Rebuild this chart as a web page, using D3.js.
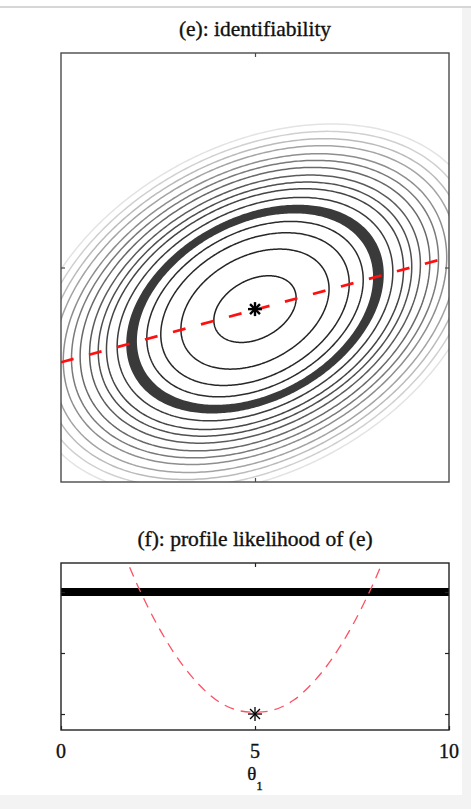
<!DOCTYPE html>
<html>
<head>
<meta charset="utf-8">
<script src="https://cdn.jsdelivr.net/npm/d3@7"></script>
<style>
  html, body { margin: 0; padding: 0; background: #ffffff; }
  svg { display: block; }
  text { font-family: "Liberation Serif", "Times New Roman", serif; fill: #111; stroke: #111; stroke-width: 0.35; }
</style>
</head>
<body>
<svg id="chart" width="471" height="809"></svg>
<script>
// ---- data ----
const theta1Ticks = [0, 5, 10];
const theta2Ticks = [5];
const profileTicks = [0, 1, 2];

// maximum-likelihood estimate (theta1, theta2)
const mle = [5, 4.03];

// likelihood contour shape: Q = d1^2 + 2*cross*d1*d2 + t2*d2^2
const shapeCross = -0.454;
const shapeTheta2 = 1.861;

// contour rings, given by their half-width along theta1 through the estimate
const ringHalfWidths = [1.0, 1.8, 2.29, 2.63, 3.35, 3.61, 3.81, 4.02, 4.25, 4.46, 4.66, 4.9, 5.11, 5.33, 5.55];
const ringGrays = ["#222", "#252525", "#282828", "#2c2c2c", "#3c3c3c", "#454545", "#4f4f4f", "#5b5b5b", "#696969",
                   "#7a7a7a", "#8e8e8e", "#a4a4a4", "#bbbbbb", "#d0d0d0", "#e3e3e3"];

// confidence-region band (inner and outer half-widths)
const bandHalfWidths = [2.87, 3.13];

// ridge of the likelihood (profile path) across the theta1 range
const ridgeTheta1 = [0, 10];
const ridgeTheta2 = [2.79, 5.24];

// profile likelihood curve
const profileTheta1 = [1.6, 2, 2.5, 3, 3.5, 4, 4.5, 5, 5.5, 6, 6.5, 7, 7.5, 8, 8.4];
const profileValue  = [2.66, 2.07, 1.44, 0.92, 0.52, 0.23, 0.07, 0.03, 0.07, 0.23, 0.52, 0.92, 1.44, 2.07, 2.66];
const profileThreshold = 2;
const profileMin = [5, 0];

// ---- layout ----
const svg = d3.select("#chart");

// page backdrop
svg.append("rect").attr("x", 0).attr("y", 0).attr("width", 471).attr("height", 809).attr("fill", "#ffffff");
svg.append("rect").attr("x", 462).attr("y", 8).attr("width", 9).attr("height", 801).attr("fill", "#f3f3f3");
svg.append("rect").attr("x", 0).attr("y", 795).attr("width", 471).attr("height", 14).attr("fill", "#f3f3f3");
svg.append("line").attr("x1", 0).attr("x2", 471).attr("y1", 7).attr("y2", 7)
  .attr("stroke", "#c8c8c8").attr("stroke-width", 1.5);

const boxE = { x0: 61, x1: 449, y0: 53, y1: 482 };
const boxF = { x0: 61, x1: 449, y0: 563, y1: 730 };

const xTop = d3.scaleLinear().domain([0, 10]).range([boxE.x0, boxE.x1]);
const yTop = d3.scaleLinear().domain([0, 10]).range([boxE.y1, boxE.y0]);
const xBot = d3.scaleLinear().domain([0, 10]).range([boxF.x0, boxF.x1]);
const yBot = d3.scaleLinear().domain([-0.262, 2.475]).range([boxF.y1, boxF.y0]);

const defs = svg.append("defs");
defs.append("clipPath").attr("id", "clipTop").append("rect")
  .attr("x", boxE.x0).attr("y", boxE.y0).attr("width", boxE.x1 - boxE.x0).attr("height", boxE.y1 - boxE.y0);
defs.append("clipPath").attr("id", "clipBot").append("rect")
  .attr("x", boxF.x0).attr("y", boxF.y0).attr("width", boxF.x1 - boxF.x0).attr("height", boxF.y1 - boxF.y0);

// points of the contour with a given half-width along theta1
function ringPoints(h) {
  const pts = [];
  for (let i = 0; i < 360; i++) {
    const phi = i * Math.PI / 180;
    const c = Math.cos(phi), s = Math.sin(phi);
    const r = h / Math.sqrt(c * c + 2 * shapeCross * c * s + shapeTheta2 * s * s);
    pts.push([mle[0] + r * c, mle[1] + r * s]);
  }
  return pts;
}
const ringLine = d3.line().x(d => xTop(d[0])).y(d => yTop(d[1])).curve(d3.curveLinearClosed);

// ---- panel (e) ----
svg.append("text").attr("x", 255).attr("y", 36).attr("text-anchor", "middle")
  .attr("font-size", 21.5).text("(e): identifiability");

const gTop = svg.append("g").attr("clip-path", "url(#clipTop)");

gTop.selectAll("path.ring").data(ringHalfWidths).enter().append("path")
  .attr("class", "ring")
  .attr("d", h => ringLine(ringPoints(h)))
  .attr("fill", "none")
  .attr("stroke", (h, i) => ringGrays[i])
  .attr("stroke-width", 1.5);

// confidence band
gTop.append("path")
  .attr("d", ringLine(ringPoints(bandHalfWidths[1])) + ringLine(ringPoints(bandHalfWidths[0])))
  .attr("fill", "#3a3a3a")
  .attr("fill-rule", "evenodd");

// ridge line
gTop.append("line")
  .attr("x1", xTop(ridgeTheta1[0])).attr("y1", yTop(ridgeTheta2[0]))
  .attr("x2", xTop(ridgeTheta1[1])).attr("y2", yTop(ridgeTheta2[1]))
  .attr("stroke", "#ff1010").attr("stroke-width", 2.7)
  .attr("stroke-dasharray", "13 16");

function asterisk(g, cx, cy, r, w) {
  const arms = [0, 45, 90, 135];
  arms.forEach(a => {
    const t = a * Math.PI / 180;
    g.append("line")
      .attr("x1", cx - r * Math.cos(t)).attr("y1", cy - r * Math.sin(t))
      .attr("x2", cx + r * Math.cos(t)).attr("y2", cy + r * Math.sin(t))
      .attr("stroke", "#000").attr("stroke-width", w);
  });
}
asterisk(svg, xTop(mle[0]), yTop(mle[1]), 7, 2.4);

// frame and ticks
svg.append("rect").attr("x", boxE.x0).attr("y", boxE.y0)
  .attr("width", boxE.x1 - boxE.x0).attr("height", boxE.y1 - boxE.y0)
  .attr("fill", "none").attr("stroke", "#4a4a4a").attr("stroke-width", 1.4);

const innerTicks = theta1Ticks.filter(t => t > 0 && t < 10);
const axT = svg.append("g").attr("transform", `translate(0,${boxE.y0})`)
  .call(d3.axisBottom(xTop).tickValues(innerTicks).tickSize(4).tickFormat(""));
const axB = svg.append("g").attr("transform", `translate(0,${boxE.y1})`)
  .call(d3.axisTop(xTop).tickValues(innerTicks).tickSize(4).tickFormat(""));
const axL = svg.append("g").attr("transform", `translate(${boxE.x0},0)`)
  .call(d3.axisRight(yTop).tickValues(theta2Ticks).tickSize(4).tickFormat(""));
const axR = svg.append("g").attr("transform", `translate(${boxE.x1},0)`)
  .call(d3.axisLeft(yTop).tickValues(theta2Ticks).tickSize(4).tickFormat(""));
[axT, axB, axL, axR].forEach(a => {
  a.select(".domain").remove();
  a.selectAll(".tick line").attr("stroke", "#4a4a4a").attr("stroke-width", 1.2);
});

// ---- panel (f) ----
svg.append("text").attr("x", 255).attr("y", 546).attr("text-anchor", "middle")
  .attr("font-size", 21.5).text("(f): profile likelihood of (e)");

const gBot = svg.append("g").attr("clip-path", "url(#clipBot)");

gBot.append("line")
  .attr("x1", xBot(0)).attr("x2", xBot(10))
  .attr("y1", yBot(profileThreshold)).attr("y2", yBot(profileThreshold))
  .attr("stroke", "#000").attr("stroke-width", 8);

const profLine = d3.line()
  .x((d, i) => xBot(profileTheta1[i]))
  .y(d => yBot(d))
  .curve(d3.curveCatmullRom);
gBot.append("path")
  .attr("d", profLine(profileValue))
  .attr("fill", "none")
  .attr("stroke", "#ff5062").attr("stroke-width", 1.3)
  .attr("stroke-dasharray", "10 7");

asterisk(svg, xBot(profileMin[0]), yBot(profileMin[1]), 7, 1.3);

svg.append("rect").attr("x", boxF.x0).attr("y", boxF.y0)
  .attr("width", boxF.x1 - boxF.x0).attr("height", boxF.y1 - boxF.y0)
  .attr("fill", "none").attr("stroke", "#222").attr("stroke-width", 1.4);

const bT = svg.append("g").attr("transform", `translate(0,${boxF.y0})`)
  .call(d3.axisBottom(xBot).tickValues(innerTicks).tickSize(4).tickFormat(""));
const bB = svg.append("g").attr("transform", `translate(0,${boxF.y1})`)
  .call(d3.axisTop(xBot).tickValues(theta1Ticks).tickSize(4).tickFormat(""));
const bL = svg.append("g").attr("transform", `translate(${boxF.x0},0)`)
  .call(d3.axisRight(yBot).tickValues(profileTicks).tickSize(4).tickFormat(""));
const bR = svg.append("g").attr("transform", `translate(${boxF.x1},0)`)
  .call(d3.axisLeft(yBot).tickValues(profileTicks).tickSize(4).tickFormat(""));
[bT, bB, bL, bR].forEach(a => {
  a.select(".domain").remove();
  a.selectAll(".tick line").attr("stroke", "#222").attr("stroke-width", 1.2);
});

// tick labels
svg.selectAll("text.xlab").data(theta1Ticks).enter().append("text")
  .attr("class", "xlab")
  .attr("x", d => xBot(d)).attr("y", 758)
  .attr("text-anchor", "middle").attr("font-size", 20)
  .text(d => d);

// axis label: theta_1
const lab = svg.append("text").attr("x", 255).attr("y", 780).attr("text-anchor", "middle").attr("font-size", 19);
lab.append("tspan").text("θ");
lab.append("tspan").attr("font-size", 13).attr("dy", 10).text("1");
</script>
</body>
</html>
